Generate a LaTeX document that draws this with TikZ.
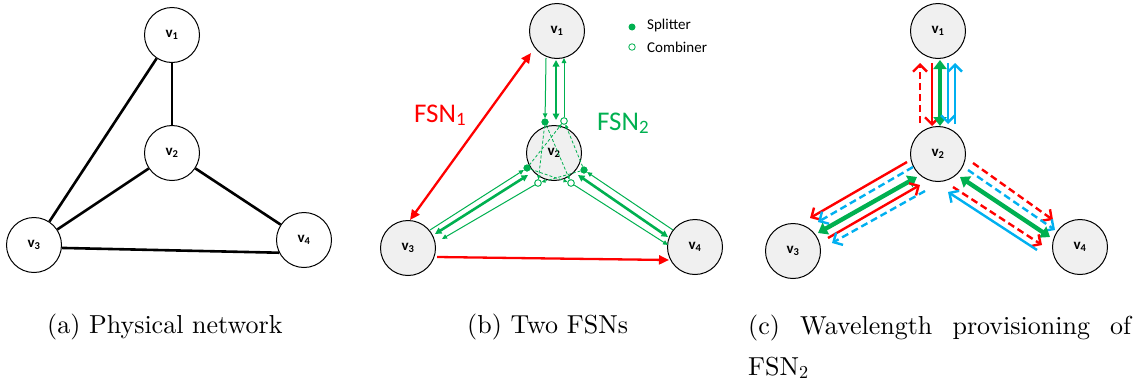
\documentclass[tikz,border=0pt]{standalone}
\usepackage{fontspec}
\newfontfamily\carl{Carlito}
\newfontfamily\capfont{lmroman10-regular}[Extension=.otf]
\usetikzlibrary{arrows.meta}
\definecolor{gr}{HTML}{00B050}
\definecolor{rd}{HTML}{FF0000}
\definecolor{bl}{HTML}{00B0F0}
\definecolor{nodefill}{HTML}{F0F0F0}
\begin{document}
\begin{tikzpicture}[x=1pt,y=-1pt,
  vert/.style={circle,draw=black,line width=1pt,minimum size=55pt,inner sep=0pt,
    font=\carl\bfseries\fontsize{15}{15}\selectfont},
  gvert/.style={vert,fill=nodefill},
  phys/.style={line width=2.6pt},
  gthin/.style={gr,line width=1pt,-{Triangle[length=5pt,width=4.5pt]}},
  gthick/.style={gr,line width=2.6pt,{Triangle[length=6.5pt,width=6.5pt]}-{Triangle[length=6.5pt,width=6.5pt]}},
  gdash/.style={gr,line width=0.8pt,dash pattern=on 3pt off 2pt,-{Triangle[length=4pt,width=3.5pt]}},
  redarr/.style={rd,line width=2.3pt,-{Triangle[length=10pt,width=9pt]}},
  spl/.style={circle,fill=gr,inner sep=0pt,minimum size=7pt},
  cmb/.style={circle,draw=gr,fill=white,line width=0.8pt,inner sep=0pt,minimum size=6.5pt},
  wl/.style={line width=2.4pt,-{Straight Barb[length=7pt,width=14pt]}},
  wld/.style={wl,dash pattern=on 7pt off 4pt},
  wlg/.style={gr,line width=4.4pt,{Triangle[length=9pt,width=13pt]}-{Triangle[length=9pt,width=13pt]}},
  captxt/.style={anchor=base west,font=\capfont\fontsize{26}{30}\selectfont,inner sep=0pt},
]
\useasboundingbox (0,0) rectangle (1142,386);

% ---------------- (a) ----------------
\node[vert] (a1) at (172,35) {v\textsubscript{1}};
\node[vert] (a2) at (172,153) {v\textsubscript{2}};
\node[vert] (a3) at (34,245) {v\textsubscript{3}};
\node[vert] (a4) at (304,240) {v\textsubscript{4}};
\draw[phys] (a1) -- (a2);
\draw[phys] (a1) -- (a3);
\draw[phys] (a2) -- (a3);
\draw[phys] (a2) -- (a4);
\draw[phys] (a3.-6) -- (a4.-153);

% ---------------- (b) ----------------
\node[gvert] (b1) at (557,31) {v\textsubscript{1}};
\node[gvert] (b2) at (554,153) {v\textsubscript{2}};
\node[gvert] (b3) at (408,248) {v\textsubscript{3}};
\node[gvert] (b4) at (695,247) {v\textsubscript{4}};

% splitters / combiners
\node[spl] (sT) at (545,122) {};
\node[spl] (sL) at (527,168) {};
\node[spl] (sR) at (584,170) {};
\node[cmb] (cT) at (564,121) {};
\node[cmb] (cL) at (538,183) {};
\node[cmb] (cR) at (571,183) {};

% endpoints
\coordinate (b1L) at (546,58);
\coordinate (b1M) at (556,60);
\coordinate (b1R) at (564,58);
\coordinate (b2M) at (556,120);
\coordinate (b3U) at (430,230);
\coordinate (b3M) at (435,234);
\coordinate (b3D) at (442,239);
\coordinate (b2LM) at (528,175);
\coordinate (b4U) at (673,230);
\coordinate (b4M) at (668,237);
\coordinate (b4D) at (668,245);
\coordinate (b2RM) at (578,175);
\coordinate (b1r) at (531,53);
\coordinate (b3r) at (410,220);
\coordinate (b3h) at (437,257);
\coordinate (b4h) at (669,260);

% internal dashed
\draw[gdash] (sT) -- (cL);
\draw[gdash] (sT) -- (cR);
\draw[gdash] (sL) -- (cT);
\draw[gdash] (sL) -- (cR);
\draw[gdash] (sR) -- (cT);
\draw[gdash] (sR) -- (cL);

% v1-v2
\draw[gthin] (b1L) -- (sT);
\draw[gthick] (b1M) -- (b2M);
\draw[gthin] (cT) -- (b1R);
% v2-v3
\draw[gthin] (b3U) -- (sL);
\draw[gthick] (b3M) -- (b2LM);
\draw[gthin] (cL) -- (b3D);
% v2-v4
\draw[gthin] (b4U) -- (sR);
\draw[gthick] (b2RM) -- (b4M);
\draw[gthin] (cR) -- (b4D);

% redraw dots on top
\node[spl] at (sT) {};
\node[spl] at (sL) {};
\node[spl] at (sR) {};
\node[cmb] at (cT) {};
\node[cmb] at (cL) {};
\node[cmb] at (cR) {};

% FSN1
\draw[redarr,{Triangle[length=10pt,width=9pt]}-{Triangle[length=10pt,width=9pt]}] (b1r) -- (b3r);
\draw[redarr] (b3h) -- (b4h);
\node[anchor=base west,inner sep=0pt,text=rd,font=\carl\fontsize{27}{27}\selectfont] (fsn1) at (414,122) {FSN\textsubscript{1}};
\node[anchor=base west,inner sep=0pt,text=gr,font=\carl\fontsize{27}{27}\selectfont] (fsn2) at (597,130) {FSN\textsubscript{2}};

% legend
\node[spl] (lsp) at (632,27) {};
\node[cmb] (lcb) at (632,47) {};
\node[anchor=base west,inner sep=0pt,font=\carl\fontsize{15}{15}\selectfont] (lspt) at (647,29) {Splitter};
\node[anchor=base west,inner sep=0pt,font=\carl\fontsize{15}{15}\selectfont] (lcbt) at (647,52) {Combiner};

% ---------------- (c) ----------------
\node[gvert] (c1) at (938,31) {v\textsubscript{1}};
\node[gvert] (c2) at (938,154) {v\textsubscript{2}};
\node[gvert] (c3) at (793,251) {v\textsubscript{3}};
\node[gvert] (c4) at (1080,247) {v\textsubscript{4}};

% v1-v2
\coordinate (p1a) at (920,123); \coordinate (p1b) at (920,63);
\coordinate (p2a) at (932,63);  \coordinate (p2b) at (932,126);
\coordinate (p3a) at (940,60);  \coordinate (p3b) at (940,126);
\coordinate (p4a) at (948,63);  \coordinate (p4b) at (948,124);
\coordinate (p5a) at (955,124); \coordinate (p5b) at (955,63);
\draw[wld,rd] (p1a) -- (p1b);
\draw[wl,rd] (p2a) -- (p2b);
\draw[wlg] (p3a) -- (p3b);
\draw[wl,bl] (p4a) -- (p4b);
\draw[wl,bl] (p5a) -- (p5b);

% v2-v3
\coordinate (q1a) at (907,162); \coordinate (q1b) at (810,218);
\coordinate (q2a) at (913,167); \coordinate (q2b) at (818,222);
\coordinate (q3a) at (917,177); \coordinate (q3b) at (818,233);
\coordinate (q4a) at (828,238); \coordinate (q4b) at (920,185);
\coordinate (q5a) at (925,191); \coordinate (q5b) at (832,243);
\draw[wl,rd] (q1a) -- (q1b);
\draw[wld,bl] (q2a) -- (q2b);
\draw[wlg] (q3a) -- (q3b);
\draw[wl,rd] (q4a) -- (q4b);
\draw[wld,bl] (q5a) -- (q5b);

% v2-v4
\coordinate (r1a) at (973,163); \coordinate (r1b) at (1053,220);
\coordinate (r2a) at (968,170); \coordinate (r2b) at (1055,230);
\coordinate (r3a) at (960,177); \coordinate (r3b) at (1050,237);
\coordinate (r4a) at (953,187); \coordinate (r4b) at (1042,245);
\coordinate (r5a) at (1037,250); \coordinate (r5b) at (948,192);
\draw[wld,rd] (r1a) -- (r1b);
\draw[wld,bl] (r2a) -- (r2b);
\draw[wlg] (r3a) -- (r3b);
\draw[wld,rd] (r4a) -- (r4b);
\draw[wl,bl] (r5a) -- (r5b);

% ---------------- captions ----------------
\node[captxt] (capa) at (47,333) {(a) Physical network};
\node[captxt] (capb) at (467,333) {(b) Two FSNs};
\node[captxt] (capc) at (748,334) {\makebox[383pt][s]{(c) Wavelength provisioning of}};
\node[captxt] (capc2) at (748,375) {FSN\textsubscript{2}};
\end{tikzpicture}
\end{document}
